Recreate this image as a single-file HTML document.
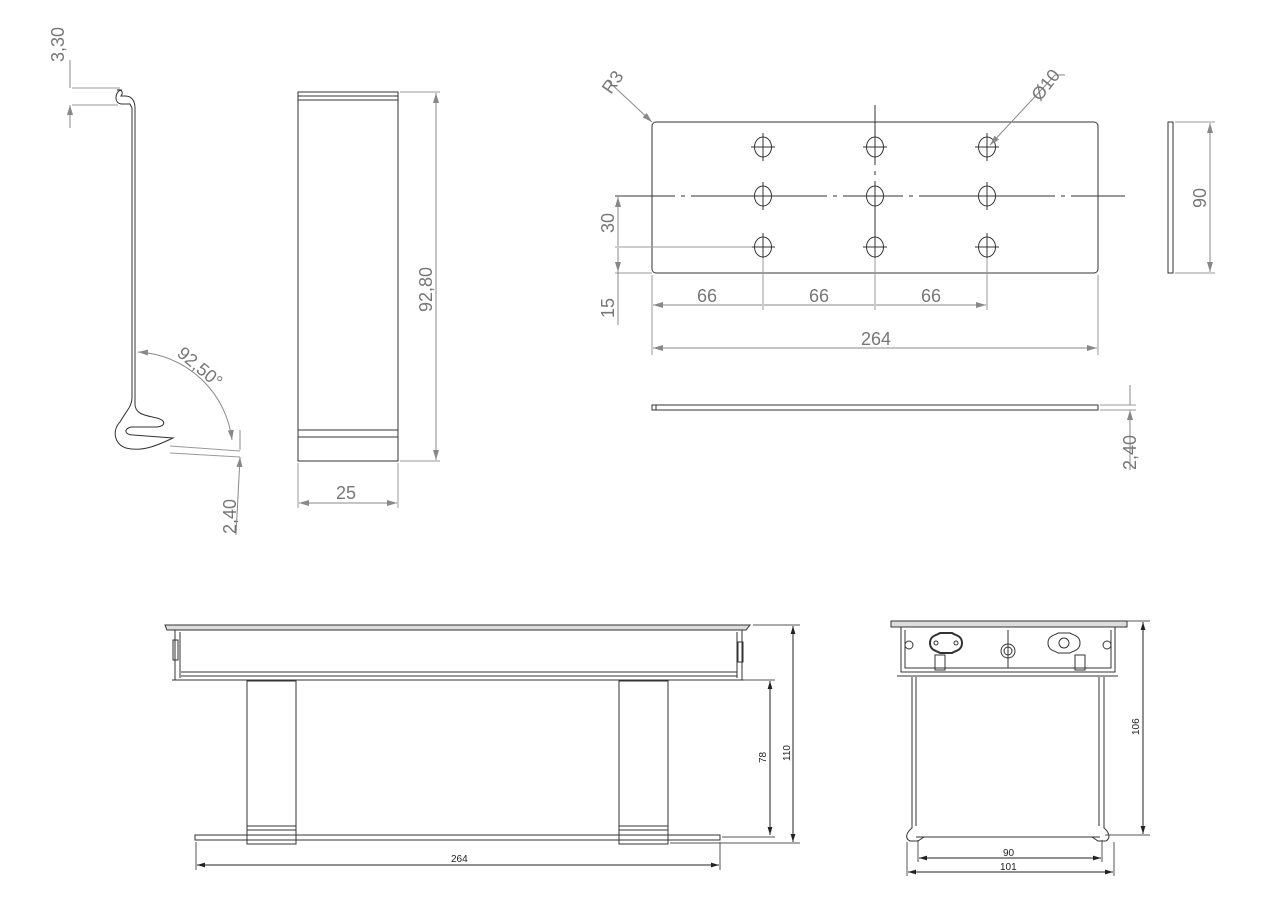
<!DOCTYPE html>
<html><head><meta charset="utf-8"><style>body{margin:0;background:#fff}svg{display:block}</style></head><body>
<svg width="1269" height="897" viewBox="0 0 1269 897" xmlns="http://www.w3.org/2000/svg" font-family="Liberation Sans, sans-serif">
<defs>
<marker id="a" viewBox="0 0 10 6" refX="10" refY="3" markerWidth="10" markerHeight="6" orient="auto-start-reverse"><path d="M0,0L10,3L0,6z" fill="#888"/></marker>
<marker id="b" viewBox="0 0 10 6" refX="10" refY="3" markerWidth="8" markerHeight="5" orient="auto-start-reverse"><path d="M0,0L10,3L0,6z" fill="#222"/></marker>
<g id="h" fill="none" stroke="#333"><ellipse cx="0" cy="0" rx="8.5" ry="10"/><path d="M-12,0H12M0,-14V14"/></g>
</defs>
<g fill="none" stroke="#333" stroke-width="1">
<!-- profile -->
<path d="M72,88H120 M72,105H118" stroke="#999"/>
<path d="M122,90c-7,0-9,14 0,14h8l2,4v290c0,8-5,12-12,24c-8,8-6,22 6,26c16,4 30,-2 47,-10l-40,-3c-8,0-10,-6-2,-8h26c8,-1 10,-6 0,-9c-15,-3-22,-5-22,-14v-296c0,-8-4,-12-10,-12h-4c3,-4 0,-7-4,-6z"/>
<path d="M138,352A100,100 0 0 1 232,440" stroke="#888" marker-start="url(#a)" marker-end="url(#a)"/>
<path d="M170,446L240,451 M170,453L240,457" stroke="#999"/>
<path d="M70,60V88 M70,128V105" stroke="#888" marker-end="url(#a)"/>
<path d="M240,430V450 M236,535L240,457" stroke="#888" marker-end="url(#a)"/>
<!-- front rect -->
<rect x="298" y="92" width="100" height="369"/>
<path d="M298,96H398 M298,100H398 M298,430H398 M298,437H398"/>
<path d="M400,92H440 M400,461H440 M298,463V508 M398,463V508" stroke="#999"/>
<path d="M436,93V460" stroke="#888" marker-start="url(#a)" marker-end="url(#a)"/>
<path d="M299,503H397" stroke="#888" marker-start="url(#a)" marker-end="url(#a)"/>
<!-- plate -->
<rect x="652" y="122" width="446" height="151" rx="4"/>
<path d="M875,105V265 M615,196H1125" stroke="#333" stroke-dasharray="60,6,4,6"/>
<use href="#h" x="763" y="147"/><use href="#h" x="875" y="147"/><use href="#h" x="987" y="147"/>
<use href="#h" x="763" y="196"/><use href="#h" x="875" y="196"/><use href="#h" x="987" y="196"/>
<use href="#h" x="763" y="247"/><use href="#h" x="875" y="247"/><use href="#h" x="987" y="247"/>
<path d="M615,247H752 M615,273H652 M652,275V355 M1098,275V355 M763,258V310 M875,258V310 M987,258V310" stroke="#999"/>
<path d="M653,305H762 M764,305H874 M876,305H986" stroke="#888" marker-start="url(#a)" marker-end="url(#a)"/>
<path d="M653,348H1097" stroke="#888" marker-start="url(#a)" marker-end="url(#a)"/>
<path d="M618,197V246 M618,248V272" stroke="#888" marker-start="url(#a)" marker-end="url(#a)"/>
<path d="M618,272V325" stroke="#888"/>
<path d="M607,80L652,122" stroke="#888" marker-end="url(#a)"/>
<path d="M1065,75L1055,75L990,145" stroke="#888" marker-end="url(#a)"/>
<rect x="1168" y="122" width="5" height="151"/>
<path d="M1175,122H1215 M1175,273H1215" stroke="#999"/>
<path d="M1210,123V272" stroke="#888" marker-start="url(#a)" marker-end="url(#a)"/>
<rect x="652" y="405" width="446" height="5"/><path d="M656,405V410"/>
<path d="M1100,405H1136 M1100,410H1136" stroke="#999"/>
<path d="M1130,385V405 M1130,470V410" stroke="#888" marker-end="url(#a)"/>
<!-- bottom left -->
<path d="M165,625H750L746,630H167z" fill="#ddd"/>
<rect x="175" y="630" width="567" height="50"/>
<path d="M180,632V678 M737,632V678 M181,672H737 M181,676H737 M172,680H744" />
<rect x="173" y="640" width="5" height="20"/><rect x="738" y="642" width="5" height="20"/>
<rect x="247" y="681" width="49" height="163"/><rect x="619" y="681" width="49" height="163"/>
<path d="M247,826H296 M247,830H296 M619,826H668 M619,830H668"/>
<rect x="195" y="835" width="525" height="5"/>
<path d="M744,680H775 M670,843H800 M722,837H775 M753,625H800 M196,842V870 M720,842V870" stroke="#555"/>
<path d="M770,681V835" stroke="#222" marker-start="url(#b)" marker-end="url(#b)"/>
<path d="M793,626V842" stroke="#222" marker-start="url(#b)" marker-end="url(#b)"/>
<path d="M197,865H719" stroke="#222" marker-start="url(#b)" marker-end="url(#b)"/>
<!-- bottom right -->
<rect x="891" y="621" width="236" height="6" fill="#ddd"/>
<path d="M901,627V672H1115V627 M905,630V668H1111V630 M1008,630V668 M897,676H1118"/>
<path d="M912,677V828c-5,4-8,10-2,13h8l6,-4H1092l6,4h8c5,-3 3,-9-2,-13V677 M916,677V826 M1099,677V826 M916,837H1100"/>
<circle cx="909" cy="645" r="4"/><circle cx="1107" cy="645" r="4"/>
<circle cx="1008" cy="651" r="7"/><circle cx="1008" cy="651" r="4"/>
<path d="M930,643c0,-8 8,-8 10,-10h12c2,2 10,2 10,10c0,8-8,8-10,10h-12c-2,-2-10,-2-10,-10z" stroke-width="2"/>
<path d="M1048,643c0,-8 8,-8 10,-10h12c2,2 10,2 10,10c0,8-8,8-10,10h-12c-2,-2-10,-2-10,-10z"/>
<circle cx="1064" cy="643" r="5"/><circle cx="936" cy="643" r="2"/><circle cx="956" cy="643" r="2"/>
<rect x="935" y="655" width="10" height="15"/><rect x="1075" y="655" width="10" height="15"/>
<path d="M1127,621H1150 M1105,835H1150 M918,840V862 M1102,840V862 M907,842V876 M1114,842V876" stroke="#555"/>
<path d="M1143,622V834" stroke="#222" marker-start="url(#b)" marker-end="url(#b)"/>
<path d="M919,858H1101" stroke="#222" marker-start="url(#b)" marker-end="url(#b)"/>
<path d="M908,872H1113" stroke="#222" marker-start="url(#b)" marker-end="url(#b)"/>
</g>
<g fill="#777" font-size="18">
<text transform="translate(64,62) rotate(-90)">3,30</text>
<text transform="translate(176,355) rotate(40)">92,50°</text>
<text transform="translate(236,534) rotate(-90)">2,40</text>
<text transform="translate(432,312) rotate(-90)">92,80</text>
<text x="336" y="499">25</text>
<text transform="translate(611,95) rotate(-55)">R3</text>
<text transform="translate(1040,102) rotate(-52)">Ø10</text>
<text transform="translate(614,233) rotate(-90)">30</text>
<text transform="translate(614,318) rotate(-90)">15</text>
<text x="697" y="302">66</text><text x="809" y="302">66</text><text x="921" y="302">66</text>
<text x="861" y="345">264</text>
<text transform="translate(1206,208) rotate(-90)">90</text>
<text transform="translate(1136,470) rotate(-90)">2,40</text>
</g>
<g fill="#222" font-size="10">
<text transform="translate(766,763) rotate(-90)">78</text>
<text transform="translate(790,761) rotate(-90)">110</text>
<text x="451" y="862">264</text>
<text transform="translate(1139,735) rotate(-90)">106</text>
<text x="1003" y="856">90</text>
<text x="1000" y="870">101</text>
</g>
</svg>
</body></html>
